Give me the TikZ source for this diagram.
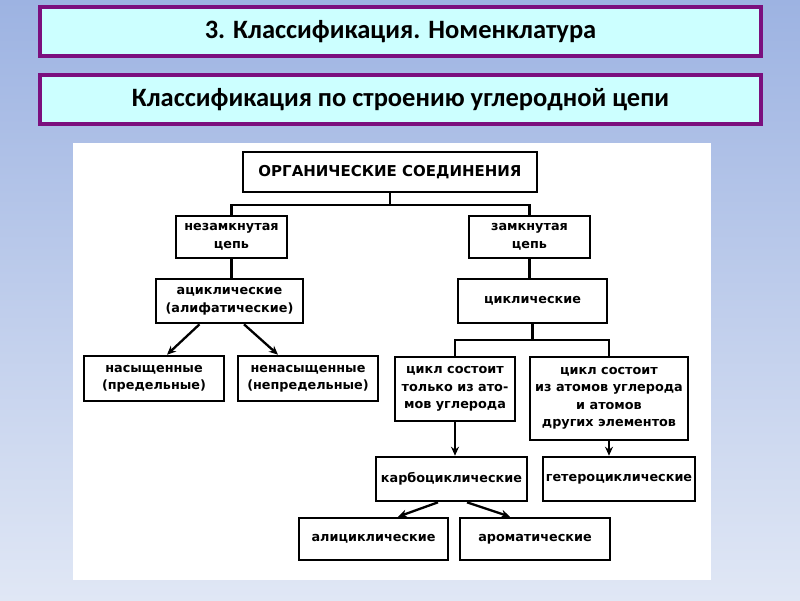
\documentclass[tikz,border=0pt]{standalone}
\usepackage{fontspec}
\setmainfont{Carlito}
\newfontfamily\schemefont{DejaVu Sans}
\usetikzlibrary{calc,arrows.meta}
\definecolor{bgtop}{HTML}{9DB3E2}
\definecolor{bgbottom}{HTML}{E0E7F5}
\definecolor{framepurple}{HTML}{7B0F7E}
\definecolor{titlefill}{HTML}{CCFFFF}
\newcommand{\boxfont}{\schemefont\bfseries\fontsize{12.8}{17.5}\selectfont}

\begin{document}
\begin{tikzpicture}[x=1pt,y=-1pt,
	titlebox/.style={draw=framepurple, line width=4pt, fill=titlefill, minimum width=721pt, minimum height=49pt, inner sep=0pt, font=\bfseries\fontsize{26.5}{30}\selectfont},
	chembox/.style={draw, line width=2.6pt, fill=white, align=center, inner sep=0pt, font=\boxfont},
	link/.style={line width=2.3pt},
	arrowline/.style={line width=2.3pt, -{Stealth[length=9pt,width=8pt]}}]
	\useasboundingbox (0,0) rectangle (800,600);
	\shade[top color=bgtop, bottom color=bgbottom] (0,0) rectangle (800,600);

	% headers
	\node[titlebox] (title) at (400.5,31.5) {3. Классификация. Номенклатура};
	\node[titlebox] (subtitle) at (400.5,99.5) {Классификация по строению углеродной цепи};

	% scheme sheet
	\fill[white] (73,143) rectangle (711,580);

	\node[chembox, minimum width=294pt, minimum height=40pt, font=\schemefont\bfseries\fontsize{15}{18}\selectfont] (org) at (390,172) {ОРГАНИЧЕСКИЕ СОЕДИНЕНИЯ};
	\node[chembox, minimum width=111pt, minimum height=42pt] (open) at (231.5,237) {незамкнутая\\цепь};
	\node[chembox, minimum width=121pt, minimum height=42pt] (closed) at (529.5,237) {замкнутая\\цепь};
	\node[chembox, minimum width=147pt, minimum height=44pt] (acyc) at (229.5,301) {ациклические\\(алифатические)};
	\node[chembox, minimum width=149pt, minimum height=44pt] (cyc) at (532.5,301) {циклические};
	\node[chembox, minimum width=140pt, minimum height=45pt] (sat) at (154,378.5) {насыщенные\\(предельные)};
	\node[chembox, minimum width=140pt, minimum height=45pt] (unsat) at (308,378.5) {ненасыщенные\\(непредельные)};
	\node[chembox, minimum width=120pt, minimum height=64pt] (carbring) at (455,389) {цикл состоит\\только из ато-\\мов углерода};
	\node[chembox, minimum width=158pt, minimum height=83pt] (hetring) at (609,398.5) {цикл состоит\\из атомов углерода\\и атомов\\других элементов};
	\node[chembox, minimum width=151pt, minimum height=44pt] (carbo) at (451.5,479) {карбоциклические};
	\node[chembox, minimum width=152pt, minimum height=44pt] (hetero) at (619,479) {гетероциклические};
	\node[chembox, minimum width=149pt, minimum height=42pt] (alicyc) at (373.5,539) {алициклические};
	\node[chembox, minimum width=150pt, minimum height=42pt] (arom) at (535,539) {ароматические};

	\coordinate (orgfork) at (390,205);
	\coordinate (cycfork) at (532.5,340);

	\draw[link] (org.south) -- (orgfork);
	\draw[link] (open.north) |- (orgfork) -| (closed.north);
	\draw[link] (open.south) -- (open.south |- acyc.north);
	\draw[link] (closed.south) -- (closed.south |- cyc.north);
	\draw[link] (cyc.south) -- (cycfork);
	\draw[link] (carbring.north) |- (cycfork) -| (hetring.north);

	\draw[arrowline] ($(acyc.south)+(-30,0)$) -- ($(sat.north)+(13,0)$);
	\draw[arrowline] ($(acyc.south)+(14.5,0)$) -- ($(unsat.north)+(-30,0)$);
	\draw[arrowline] (carbring.south) -- (carbring.south |- carbo.north);
	\draw[arrowline] (hetring.south) -- (hetring.south |- hetero.north);
	\draw[arrowline] ($(carbo.south)+(-13.5,0)$) -- ($(alicyc.north)+(24.5,0)$);
	\draw[arrowline] ($(carbo.south)+(15.5,0)$) -- ($(arom.north)+(-25,0)$);
\end{tikzpicture}
\end{document}
